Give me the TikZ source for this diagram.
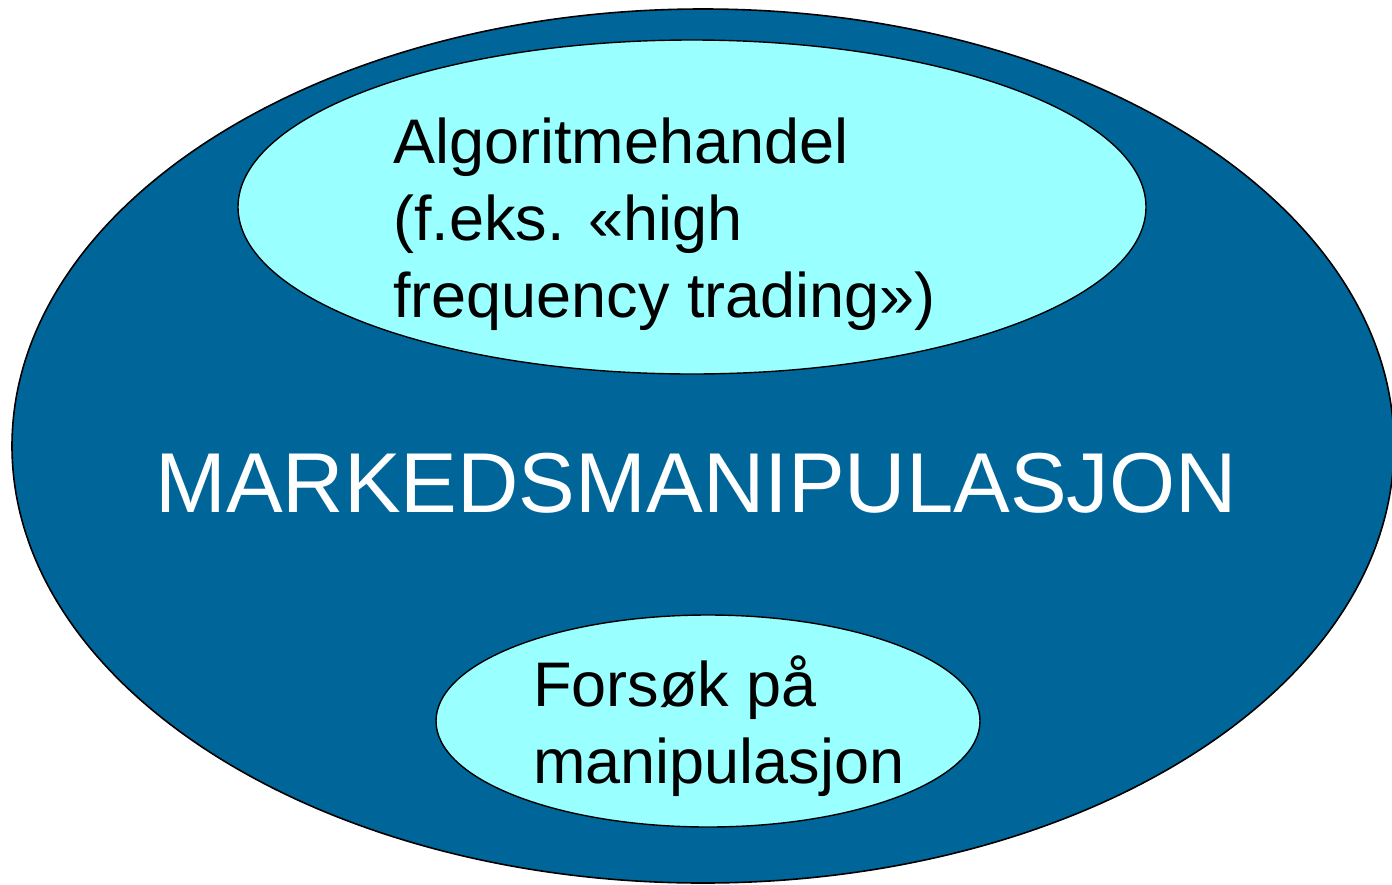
\documentclass[tikz,border=0pt]{standalone}
\usepackage{fontspec}
\setmainfont{Liberation Sans}
\definecolor{markedblue}{RGB}{0,102,153}
\definecolor{lightcyan}{RGB}{153,255,255}
\tikzset{
  outerfield/.style={fill=markedblue,draw=black,line width=1.6pt},
  innerfield/.style={fill=lightcyan,draw=black,line width=1.4pt},
  bigtext/.style={text=white,font=\fontsize{85}{102}\selectfont,inner sep=0pt},
  boxtext/.style={text=black,font=\fontsize{63}{77}\selectfont,align=left,inner sep=0pt,anchor=base west}
}
\begin{document}
\begin{tikzpicture}[x=1pt,y=-1pt]
  \useasboundingbox (0,0) rectangle (1392,884);
  \clip (0,0) rectangle (1392,884);
  % outer field
  \draw[outerfield] (703,446) ellipse [x radius=691,y radius=437];
  % the two inner fields
  \draw[innerfield] (692,207) ellipse [x radius=454,y radius=167];
  \draw[innerfield] (708,721) ellipse [x radius=272,y radius=106];
  % base = baseline of the last line
  \node[boxtext] (algo) at (393,317) {Algoritmehandel\\(f.eks. «high\\frequency trading»)};
  \node[bigtext,anchor=base west] (marked) at (155,512) {MARKEDSMANIPULASJON};
  \node[boxtext] (forsok) at (533,783) {Forsøk på\\manipulasjon};
\end{tikzpicture}
\end{document}
